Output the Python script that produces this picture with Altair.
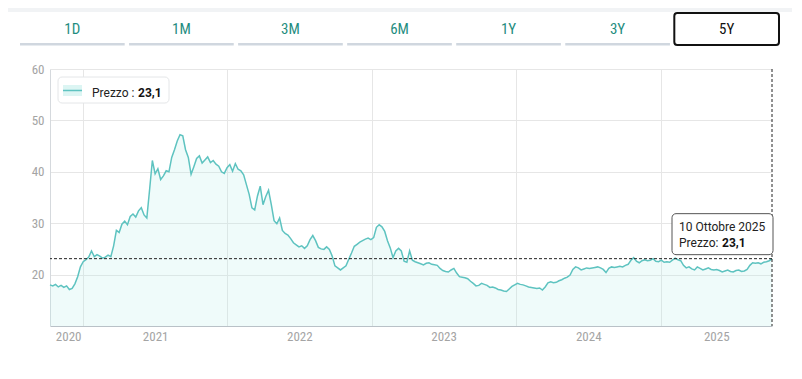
import altair as alt
import pandas as pd

# ---------------- data ----------------
prices = [
    18.0, 17.8, 18.1, 17.6, 17.9, 17.5, 17.8, 17.1, 17.3, 18.2,
    19.6, 21.5, 22.5, 22.9, 23.4, 24.6, 23.5, 23.9, 23.6, 23.2,
    23.4, 23.8, 23.5, 25.6, 28.6, 28.2, 29.8, 30.4, 29.7, 31.3,
    31.8, 31.2, 32.4, 33.0, 31.6, 31.0, 36.5, 42.2, 39.6, 40.6,
    38.5, 39.2, 40.2, 40.0, 42.8, 44.3, 46.0, 47.2, 47.0, 44.3,
    42.8, 39.5, 41.0, 42.6, 43.1, 41.7, 42.3, 42.9, 41.8, 42.2,
    41.5, 41.1, 40.0, 39.7, 40.8, 41.4, 40.1, 41.6, 40.5, 40.2,
    39.4, 37.5, 35.6, 33.0, 32.6, 35.3, 37.2, 33.6, 35.2, 36.4,
    33.6, 30.5, 29.9, 31.0, 28.6, 28.0, 27.7, 27.0, 26.2, 25.8,
    25.4, 25.6, 25.1, 25.6, 26.8, 27.6, 26.6, 25.3, 25.0, 24.9,
    25.4, 24.9, 23.6, 21.7, 21.3, 20.9, 21.3, 21.7, 23.0, 24.2,
    25.5, 25.9, 26.3, 26.6, 26.9, 27.1, 26.8, 27.2, 29.2, 29.7,
    29.3, 28.4, 26.6, 25.2, 23.3, 24.6, 25.1, 24.6, 22.6, 22.4,
    24.6, 22.8, 22.5, 22.3, 22.1, 21.9, 22.2, 22.3, 22.0, 21.9,
    21.8, 21.2, 20.8, 20.6, 20.5, 20.9, 21.2, 20.3, 19.6, 19.5,
    19.4, 19.2, 18.7, 18.3, 17.8, 17.9, 18.3, 18.1, 17.9, 17.5,
    17.6, 17.4, 17.1, 17.0, 16.8, 16.7, 17.2, 17.7, 18.0, 18.3,
    18.1, 18.0, 17.8, 17.6, 17.5, 17.4, 17.3, 17.4, 17.0, 17.6,
    18.4, 18.6, 18.4, 18.5, 18.8, 19.0, 19.3, 19.5, 19.9, 21.0,
    21.5, 21.3, 20.9, 21.1, 21.3, 21.2, 21.3, 21.4, 21.5, 21.3,
    21.0, 20.4, 21.2, 21.5, 21.4, 21.5, 21.6, 21.5, 21.8, 22.0,
    22.8, 23.3, 22.6, 22.3, 22.7, 22.9, 22.7, 22.8, 23.1, 22.6,
    22.5, 22.8, 22.4, 22.5, 22.4, 22.8, 23.2, 22.9, 22.7, 21.8,
    21.3, 21.5, 21.1, 20.9, 21.5, 21.2, 20.9, 21.1, 21.3, 21.0,
    20.9, 21.0, 20.8, 20.5, 20.7, 20.9, 20.6, 20.5, 20.8, 20.9,
    20.6, 20.7, 21.0, 21.8, 22.3, 22.2, 22.3, 22.1, 22.4, 22.5,
    22.7, 23.1,
]
end_date = "2025-10-10"
series_name = "Prezzo"
tabs = ["1D", "1M", "3M", "6M", "1Y", "3Y", "5Y"]
selected_tab = "5Y"
y_ticks = [20, 30, 40, 50, 60]
y_domain = [10, 60]
grid_years = [2021, 2022, 2023, 2024, 2025]
# year labels sit in the middle of each year's span
label_dates = [(2020, 11, 24), (2021, 7, 2), (2022, 7, 2), (2023, 7, 2), (2024, 7, 2), (2025, 5, 22)]
mesi = ["Gennaio", "Febbraio", "Marzo", "Aprile", "Maggio", "Giugno", "Luglio",
        "Agosto", "Settembre", "Ottobre", "Novembre", "Dicembre"]

dates = pd.date_range(end=end_date, periods=len(prices), freq="7D")
df = pd.DataFrame({"date": dates, "price": prices})

last = df.iloc[[-1]].copy()
d_last = last["date"].iloc[0]
v_last = last["price"].iloc[0]
last["label_date"] = f"{d_last.day} {mesi[d_last.month - 1]} {d_last.year}"
last["label_val"] = f"{v_last:.1f}".replace(".", ",")
last["legend_name"] = series_name + " :"
last["tip_name"] = series_name + ":"

df_tabs = pd.DataFrame({"tab": tabs, "selected": [t == selected_tab for t in tabs]})

# ---------------- style ----------------
COND = "'Roboto Condensed', 'Liberation Sans Narrow', 'DejaVu Sans Condensed', 'Open Sans', sans-serif"
SANS = "Roboto, 'Open Sans', sans-serif"
TEAL = "#5ec3c0"
GRID = "#e6e6e6"
LABEL = "#a4a4a4"


def dt(y, m, d):
    return alt.DateTime(year=y, month=m, date=d)


x_scale = alt.Scale(domain=[dt(dates[0].year, dates[0].month, dates[0].day),
                            dt(dates[-1].year, dates[-1].month, dates[-1].day)], nice=False)

y_enc = alt.Y("price:Q",
              scale=alt.Scale(domain=y_domain, nice=False, zero=False),
              axis=alt.Axis(values=y_ticks, grid=True, gridColor=GRID, ticks=False,
                            domainColor="#d5d9dd", labelColor=LABEL, labelFont=COND,
                            labelFontSize=13, labelPadding=6, title=None))

x_labels = alt.X("date:T", scale=x_scale,
                 axis=alt.Axis(values=[dt(*v) for v in label_dates], format="%Y", grid=False,
                               ticks=False, domainColor="#b9c1c7", labelColor=LABEL,
                               labelFont=COND, labelFontSize=13, labelPadding=4,
                               labelFlush=False, title=None, orient="bottom"))
x_grid = alt.X("date:T", scale=x_scale,
               axis=alt.Axis(values=[dt(y, 1, 1) for y in grid_years], grid=True,
                             gridColor=GRID, labels=False, ticks=False, domain=False,
                             title=None, orient="top"))
x_plain = alt.X("date:T", scale=x_scale, axis=None)

base = alt.Chart(df)

area = base.mark_area(color="#b6ecea", opacity=0.22, clip=True).encode(x=x_labels, y=y_enc)
line = base.mark_line(color=TEAL, strokeWidth=1.5).encode(x=x_grid, y=y_enc)

lastc = alt.Chart(last)
hrule = lastc.mark_rule(color="#222", strokeDash=[3, 2], strokeWidth=1).encode(y=y_enc)
vrule = lastc.mark_rule(color="#222", strokeDash=[3, 2], strokeWidth=1).encode(x=x_plain)

tip_box = lastc.mark_rect(fill="white", stroke="#555", strokeWidth=1, cornerRadius=4,
                          xOffset=-100, x2Offset=1, yOffset=-45, y2Offset=-4).encode(
    x=x_plain, x2="date:T", y=y_enc, y2="price:Q")
tip_date = lastc.mark_text(align="left", baseline="middle", dx=-93, dy=-32, fontSize=12,
                           font=SANS, color="#222").encode(x=x_plain, y=y_enc, text="label_date:N")
tip_name = lastc.mark_text(align="left", baseline="middle", dx=-93, dy=-16, fontSize=12,
                           font=SANS, color="#222").encode(x=x_plain, y=y_enc, text="tip_name:N")
tip_val = lastc.mark_text(align="left", baseline="middle", dx=-50, dy=-16, fontSize=12,
                          font=SANS, fontWeight="bold", color="#111").encode(
    x=x_plain, y=y_enc, text="label_val:N")

# legend (top-left box)
leg_box = lastc.mark_rect(fill="white", stroke="#e4e6e8", strokeWidth=1, cornerRadius=4).encode(
    x=alt.value(8), x2=alt.value(119), y=alt.value(8), y2=alt.value(34))
leg_sw = lastc.mark_rect(fill="#dcf5f3").encode(
    x=alt.value(13), x2=alt.value(32), y=alt.value(16), y2=alt.value(27))
leg_ln = lastc.mark_rule(color=TEAL, strokeWidth=1.5).encode(
    x=alt.value(13), x2=alt.value(32), y=alt.value(21.5))
leg_name = lastc.mark_text(align="left", baseline="middle", fontSize=12, font=SANS,
                           color="#222").encode(x=alt.value(42), y=alt.value(24), text="legend_name:N")
leg_val = lastc.mark_text(align="left", baseline="middle", fontSize=12, font=SANS,
                          fontWeight="bold", color="#111").encode(
    x=alt.value(88), y=alt.value(24), text="label_val:N")

# thin grey strip above the white card
top_strip = lastc.mark_rect(fill="#f1f3f5").encode(
    x=alt.value(-50), x2=alt.value(750), y=alt.value(-62), y2=alt.value(-57))

main = alt.layer(area, line, hrule, vrule, tip_box, tip_date, tip_name, tip_val,
                 leg_box, leg_sw, leg_ln, leg_name, leg_val, top_strip).resolve_axis(x="independent")

# tab bar
tab_scale = alt.Scale(domain=tabs, range=[-30, 729], paddingInner=0.04, paddingOuter=0)
tabc = alt.Chart(df_tabs)
tab_line = tabc.mark_rect(color="#d0d7df").encode(
    x=alt.X("tab:N", scale=tab_scale, axis=None), y=alt.value(-26), y2=alt.value(-23.5))
tab_box = tabc.mark_rect(fill="white", stroke="#111", strokeWidth=2, cornerRadius=3).encode(
    x=alt.X("tab:N", scale=tab_scale, axis=None), y=alt.value(-56), y2=alt.value(-24)
).transform_filter(alt.datum.selected)
tab_text = tabc.mark_text(fontSize=15, font=COND, baseline="middle").encode(
    x=alt.X("tab:N", scale=tab_scale, axis=None), y=alt.value(-40), text="tab:N",
    color=alt.condition(alt.datum.selected, alt.value("#111111"), alt.value("#1f8d80")))
tabs_layer = alt.layer(tab_line, tab_box, tab_text)

chart = alt.layer(main, tabs_layer).resolve_scale(x="independent").properties(
    width=722, height=257,
    autosize=alt.AutoSizeParams(type="none"),
    padding={"left": 42, "top": 61, "right": 20, "bottom": 40},
    background="white",
).configure_view(stroke=None)

chart.save("out.html", embed_options={"renderer": "svg", "actions": False})
